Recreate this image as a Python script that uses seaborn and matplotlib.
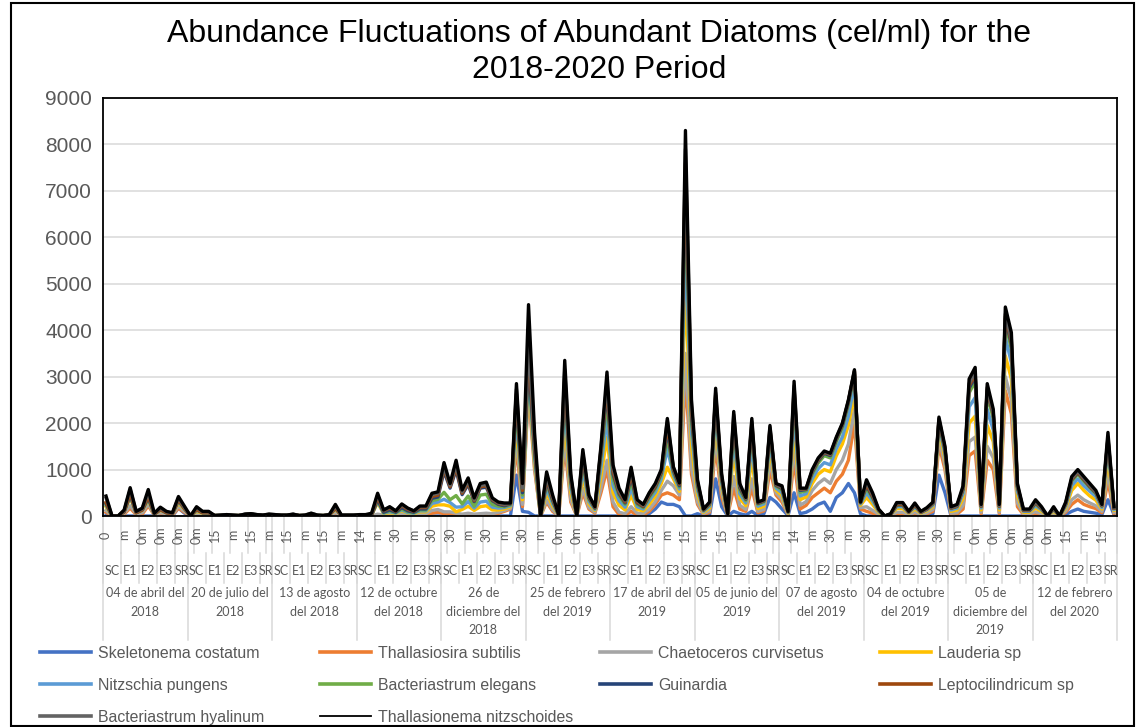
import numpy as np
import pandas as pd
import seaborn as sns
import matplotlib.pyplot as plt
from matplotlib.lines import Line2D
from matplotlib.patches import Rectangle

# ---- data: 12 sampling dates x 14 samples (SC 3, E1 3, E2 3, E3 3, SR 2) ----
dates = ["04 de abril del\n2018", "20 de julio del\n2018", "13 de agosto\ndel 2018",
         "12 de octubre\ndel 2018", "26 de\ndiciembre del\n2018", "25 de febrero\ndel 2019",
         "17 de abril del\n2019", "05 de junio del\n2019", "07 de agosto\ndel 2019",
         "04 de octubre\ndel 2019", "05 de\ndiciembre del\n2019", "12 de febrero\ndel 2020"]
stations = ["SC", "E1", "E2", "E3", "SR"]
station_size = [3, 3, 3, 3, 2]

# depth labels shown by the axis (every 3rd sample)
depth_labels = ["0", "m", "0m", "0m", "0m", "0m", "15", "m", "15", "m", "15", "m", "15", "m", "14",
                "m", "30", "m", "30", "30", "m", "30", "m", "30", "m", "0m", "0m", "0m", "0m", "0m",
                "15", "m", "15", "m", "15", "m", "15", "m", "14", "m", "30", "m", "30", "m", "30",
                "m", "30", "m", "0m", "0m", "0m", "0m", "0m", "15", "m", "15"]

species = ["Skeletonema costatum", "Thallasiosira subtilis", "Chaetoceros curvisetus", "Lauderia sp",
           "Nitzschia pungens", "Bacteriastrum elegans", "Guinardia", "Leptocilindricum sp",
           "Bacteriastrum hyalinum", "Thallasionema nitzschoides"]
colors = ["#4472C4", "#ED7D31", "#A5A5A5", "#FFC000", "#5B9BD5",
          "#70AD47", "#264478", "#9E480E", "#636363", "#000000"]

skeletonema = [
    20, 0, 0, 0, 0, 0, 0, 0, 0, 0, 20, 0, 170, 60,
    0, 0, 0, 0, 0, 0, 0, 0, 0, 0, 0, 0, 0, 0,
    0, 0, 0, 0, 0, 0, 0, 0, 0, 0, 60, 0, 0, 0,
    0, 0, 0, 0, 0, 0, 0, 0, 0, 0, 0, 0, 0, 0,
    0, 0, 0, 0, 0, 0, 0, 0, 0, 0, 0, 0, 880, 100,
    80, 0, 0, 0, 0, 0, 0, 0, 0, 0, 0, 0, 0, 0,
    0, 0, 0, 0, 0, 0, 50, 150, 300, 250, 250, 200, 0, 0,
    50, 0, 20, 800, 200, 0, 100, 50, 20, 100, 10, 50, 400, 300,
    150, 10, 500, 50, 80, 150, 250, 300, 100, 400, 500, 700, 500, 50,
    0, 0, 0, 0, 0, 0, 0, 0, 0, 0, 20, 50, 880, 500,
    0, 0, 0, 0, 0, 0, 0, 0, 0, 0, 0, 0, 0, 0,
    0, 0, 0, 0, 0, 30, 100, 150, 100, 80, 60, 30, 350, 30]
thallasiosira = [
    60, 0, 0, 40, 170, 30, 40, 220, 20, 40, 20, 20, 0, 20,
    0, 30, 20, 10, 0, 0, 0, 0, 0, 10, 10, 0, 0, 10,
    0, 0, 0, 0, 0, 0, 10, 0, 0, 0, 0, 0, 0, 0,
    0, 0, 0, 20, 10, 20, 20, 30, 20, 20, 30, 30, 60, 80,
    50, 60, 30, 20, 30, 20, 20, 30, 30, 60, 100, 150, 600, 100,
    2620, 1000, 0, 300, 100, 0, 1500, 300, 0, 500, 150, 60, 500, 1000,
    200, 30, 20, 100, 20, 20, 50, 100, 150, 250, 200, 150, 3000, 900,
    200, 30, 60, 700, 200, 20, 500, 100, 80, 500, 60, 60, 600, 150,
    150, 20, 700, 100, 150, 250, 250, 300, 400, 350, 400, 500, 1500, 100,
    100, 60, 20, 0, 0, 40, 40, 10, 40, 10, 30, 50, 650, 500,
    30, 40, 150, 1300, 1400, 50, 1200, 1000, 50, 2700, 2200, 200, 30, 30,
    50, 30, 0, 30, 0, 50, 150, 200, 150, 120, 100, 40, 400, 30]
chaetoceros = [
    40, 0, 0, 20, 50, 20, 30, 40, 10, 30, 10, 10, 40, 20,
    0, 20, 10, 10, 0, 0, 10, 0, 0, 0, 10, 10, 0, 0,
    0, 0, 0, 0, 0, 0, 0, 0, 0, 0, 20, 0, 0, 0,
    0, 0, 0, 20, 10, 10, 10, 20, 10, 10, 20, 20, 60, 60,
    40, 30, 30, 20, 30, 20, 30, 30, 20, 20, 20, 20, 200, 50,
    100, 60, 0, 50, 30, 0, 200, 60, 0, 100, 30, 20, 100, 200,
    100, 50, 30, 100, 40, 30, 50, 60, 100, 250, 200, 100, 500, 150,
    50, 20, 30, 250, 100, 0, 250, 80, 40, 200, 30, 30, 200, 50,
    60, 10, 300, 80, 80, 150, 200, 200, 200, 250, 300, 350, 300, 30,
    100, 60, 20, 0, 10, 40, 40, 20, 40, 20, 20, 40, 150, 100,
    30, 30, 80, 300, 300, 30, 300, 250, 30, 300, 300, 80, 20, 20,
    40, 20, 0, 20, 0, 30, 100, 100, 100, 80, 60, 30, 200, 20]
lauderia = [
    80, 0, 0, 30, 170, 20, 50, 80, 10, 50, 20, 20, 70, 40,
    0, 50, 30, 30, 10, 10, 10, 10, 10, 20, 20, 10, 10, 20,
    20, 10, 10, 30, 10, 10, 30, 10, 10, 20, 60, 10, 10, 10,
    10, 10, 20, 250, 30, 40, 20, 60, 30, 20, 40, 40, 90, 100,
    150, 120, 30, 100, 150, 80, 150, 160, 80, 50, 30, 30, 300, 100,
    150, 100, 0, 150, 80, 20, 400, 150, 0, 250, 80, 40, 250, 500,
    200, 150, 80, 250, 80, 60, 100, 120, 150, 300, 150, 80, 1500, 450,
    150, 30, 60, 300, 120, 20, 500, 150, 80, 450, 60, 70, 250, 60,
    80, 20, 400, 120, 100, 150, 200, 200, 250, 300, 350, 400, 350, 50,
    200, 130, 40, 0, 20, 80, 80, 30, 70, 30, 40, 60, 150, 150,
    40, 60, 150, 400, 450, 50, 450, 350, 50, 450, 450, 150, 30, 30,
    80, 50, 0, 50, 0, 60, 200, 250, 200, 150, 120, 50, 300, 40]
nitzschia = [
    30, 0, 0, 0, 30, 0, 10, 20, 0, 10, 0, 0, 30, 10,
    0, 20, 10, 10, 0, 0, 0, 0, 0, 0, 0, 0, 0, 0,
    0, 0, 0, 0, 0, 0, 0, 0, 0, 0, 20, 0, 0, 0,
    0, 0, 0, 30, 10, 20, 10, 20, 10, 10, 20, 20, 60, 60,
    120, 80, 100, 60, 100, 50, 100, 100, 60, 40, 30, 20, 200, 50,
    150, 100, 0, 100, 50, 0, 300, 100, 0, 150, 50, 20, 200, 400,
    150, 100, 60, 150, 60, 40, 80, 80, 100, 400, 80, 50, 1000, 300,
    100, 20, 40, 200, 80, 0, 300, 100, 60, 300, 50, 50, 150, 40,
    60, 10, 300, 80, 70, 100, 120, 150, 150, 150, 150, 200, 200, 30,
    100, 70, 20, 0, 0, 40, 40, 10, 40, 10, 20, 30, 100, 80,
    30, 40, 100, 350, 400, 40, 350, 250, 40, 400, 350, 100, 20, 20,
    50, 30, 0, 30, 0, 40, 100, 100, 100, 100, 80, 30, 200, 20]
b_elegans = [
    20, 0, 0, 0, 20, 0, 0, 20, 0, 10, 0, 0, 20, 10,
    0, 10, 0, 10, 0, 0, 0, 0, 0, 0, 0, 0, 0, 0,
    0, 0, 0, 0, 0, 0, 0, 0, 0, 0, 10, 0, 0, 0,
    0, 0, 0, 20, 10, 20, 10, 20, 20, 10, 20, 20, 60, 60,
    150, 60, 250, 60, 120, 40, 150, 150, 60, 40, 20, 20, 200, 50,
    150, 100, 0, 100, 50, 0, 300, 100, 0, 150, 50, 20, 200, 400,
    150, 100, 60, 150, 50, 30, 60, 70, 80, 250, 60, 40, 900, 250,
    80, 20, 30, 200, 70, 0, 250, 80, 50, 250, 40, 40, 150, 40,
    60, 10, 300, 80, 60, 100, 120, 150, 150, 150, 200, 250, 200, 20,
    100, 60, 20, 0, 0, 30, 30, 10, 30, 10, 20, 30, 80, 60,
    30, 30, 80, 300, 350, 30, 300, 250, 30, 300, 300, 80, 20, 20,
    40, 20, 0, 20, 0, 40, 100, 100, 100, 80, 60, 30, 150, 20]
guinardia = [
    20, 0, 0, 0, 20, 0, 0, 20, 0, 0, 0, 0, 20, 0,
    0, 10, 0, 0, 0, 0, 0, 0, 0, 0, 0, 0, 0, 0,
    0, 0, 0, 0, 0, 0, 0, 0, 0, 0, 0, 0, 0, 0,
    0, 0, 0, 20, 10, 20, 10, 30, 20, 10, 20, 20, 50, 50,
    450, 250, 550, 200, 250, 100, 150, 150, 80, 40, 20, 20, 150, 50,
    100, 60, 0, 50, 30, 0, 150, 50, 0, 80, 30, 10, 100, 200,
    100, 50, 30, 100, 30, 20, 40, 40, 50, 150, 40, 30, 400, 120,
    50, 10, 20, 100, 40, 0, 120, 50, 30, 120, 20, 20, 80, 20,
    30, 10, 150, 40, 30, 40, 50, 50, 50, 50, 50, 50, 50, 10,
    50, 30, 10, 0, 0, 10, 10, 0, 10, 0, 0, 10, 40, 30,
    10, 10, 20, 100, 100, 10, 100, 80, 10, 100, 100, 20, 0, 0,
    20, 10, 0, 10, 0, 10, 30, 30, 30, 20, 20, 10, 50, 10]
leptocilindricum = [
    20, 0, 0, 0, 20, 0, 0, 20, 0, 0, 0, 0, 0, 0,
    0, 0, 0, 0, 0, 0, 0, 0, 0, 0, 0, 0, 0, 0,
    0, 0, 0, 0, 0, 0, 0, 0, 0, 0, 0, 0, 0, 0,
    0, 0, 0, 40, 30, 40, 20, 40, 30, 20, 30, 30, 40, 40,
    50, 30, 50, 30, 40, 20, 30, 30, 20, 20, 20, 10, 100, 50,
    250, 100, 0, 50, 30, 0, 150, 40, 0, 60, 20, 10, 50, 100,
    50, 30, 20, 60, 20, 10, 20, 20, 20, 100, 30, 30, 300, 100,
    30, 0, 10, 50, 20, 0, 80, 30, 10, 60, 10, 10, 40, 10,
    20, 0, 80, 20, 10, 20, 20, 20, 20, 20, 20, 20, 20, 0,
    30, 20, 0, 0, 0, 10, 10, 0, 10, 0, 0, 0, 20, 20,
    0, 0, 10, 50, 50, 0, 30, 20, 0, 50, 50, 10, 0, 0,
    10, 0, 0, 0, 0, 0, 10, 10, 10, 10, 10, 0, 20, 0]
b_hyalinum = [
    100, 0, 0, 20, 90, 20, 20, 80, 10, 30, 20, 10, 40, 20,
    0, 40, 20, 20, 0, 10, 10, 10, 0, 10, 10, 10, 10, 10,
    10, 10, 10, 10, 0, 10, 20, 10, 0, 10, 40, 10, 10, 10,
    10, 10, 20, 50, 10, 20, 10, 20, 20, 10, 20, 20, 40, 40,
    40, 30, 60, 30, 40, 20, 30, 30, 20, 10, 10, 0, 100, 50,
    150, 80, 0, 50, 30, 0, 150, 50, 0, 60, 20, 10, 50, 100,
    80, 40, 30, 80, 30, 20, 30, 30, 30, 100, 30, 20, 300, 100,
    30, 10, 10, 50, 20, 0, 80, 20, 10, 60, 10, 10, 40, 10,
    10, 0, 70, 10, 10, 20, 20, 10, 10, 10, 10, 10, 10, 0,
    50, 30, 10, 0, 10, 20, 20, 10, 20, 10, 10, 10, 20, 20,
    10, 10, 20, 50, 50, 10, 40, 30, 10, 50, 50, 20, 10, 10,
    20, 10, 0, 10, 0, 10, 20, 20, 20, 20, 10, 10, 30, 10]
thallasionema = [
    40, 0, 0, 20, 40, 10, 20, 70, 10, 20, 10, 10, 30, 30,
    0, 20, 10, 10, 0, 0, 0, 0, 0, 0, 0, 0, 0, 0,
    0, 0, 0, 0, 0, 0, 0, 0, 0, 0, 40, 0, 0, 0,
    10, 10, 20, 40, 10, 10, 0, 20, 10, 0, 15, 15, 30, 30,
    100, 40, 100, 40, 60, 40, 40, 50, 20, 20, 30, 10, 120, 100,
    800, 200, 0, 100, 50, 0, 200, 50, 0, 80, 20, 10, 50, 200,
    70, 50, 20, 60, 20, 20, 20, 30, 20, 50, 20, 10, 400, 130,
    40, 10, 20, 100, 50, 10, 70, 40, 20, 60, 10, 10, 40, 20,
    30, 10, 100, 20, 10, 20, 20, 20, 20, 20, 20, 20, 20, 10,
    50, 40, 10, 0, 10, 20, 20, 10, 20, 10, 20, 20, 40, 40,
    20, 30, 40, 100, 100, 30, 80, 70, 30, 150, 150, 40, 20, 20,
    40, 30, 0, 30, 0, 30, 40, 40, 40, 40, 30, 20, 100, 20]

series = [skeletonema, thallasiosira, chaetoceros, lauderia, nitzschia,
          b_elegans, guinardia, leptocilindricum, b_hyalinum, thallasionema]

# ---- stacked line table ----
n = len(skeletonema)
pos = np.arange(n) + 0.5
stacked = np.cumsum(np.array(series), axis=0)
frames = []
for name, vals in zip(species, stacked):
    frames.append(pd.DataFrame({"pos": pos, "value": vals, "species": name}))
df = pd.concat(frames, ignore_index=True)

W, H = 1137, 727
AX_TOP, AX_BOT, AX_L, AX_R = 98, 516, 103, 1117
fig = plt.figure(figsize=(W / 100, H / 100), dpi=100)
ax = fig.add_axes([AX_L / W, 1 - AX_BOT / H, (AX_R - AX_L) / W, (AX_BOT - AX_TOP) / H])

def ay(ypx):
    # pixel row -> axes fraction
    return (AX_BOT - ypx) / (AX_BOT - AX_TOP)

sns.lineplot(data=df, x="pos", y="value", hue="species", hue_order=species,
             palette=colors, linewidth=2.4, legend=False, errorbar=None, ax=ax)

ax.set_xlim(0, n)
ax.set_ylim(0, 9000)
ax.set_xticks([])
ax.set_yticks(range(0, 9001, 1000))
ax.set_xlabel("")
ax.set_ylabel("")
ax.yaxis.grid(True, color="#D9D9D9", lw=1.1)
ax.set_axisbelow(True)
ax.tick_params(axis="y", length=0, pad=8, labelsize=15, labelcolor="#595959")
for lab in ax.get_yticklabels():
    lab.set_family("Liberation Sans")
for sp in ax.spines.values():
    sp.set_color("black")
    sp.set_linewidth(1.3)

# ---- multi-level category axis ----
tr = ax.get_xaxis_transform()
grey = "#D9D9D9"
lab_kw = dict(transform=tr, ha="center", color="#595959", family="Lato", clip_on=False)
for k, lab in enumerate(depth_labels):
    ax.text(3 * k + 0.5, ay(535), lab, rotation=90, va="center", fontsize=9, **lab_kw)
for t in range(0, n + 1, 3):
    ax.plot([t, t], [0, ay(553)], transform=tr, clip_on=False, color=grey, lw=1.1)

per_date = sum(station_size)
for d, date in enumerate(dates):
    start = d * per_date
    x0 = start
    for st, size in zip(stations, station_size):
        ax.text(x0 + size / 2, ay(571), st, va="center", fontsize=9, **lab_kw)
        ax.plot([x0, x0], [ay(553), ay(583)], transform=tr, clip_on=False, color=grey, lw=1.1)
        x0 += size
    ax.text(start + per_date / 2, ay(587), date, va="top", fontsize=9, linespacing=1.65, **lab_kw)
for d in range(len(dates) + 1):
    ax.plot([d * per_date] * 2, [0, ay(640)], transform=tr, clip_on=False, color=grey, lw=1.1)

# ---- title ----
fig.text(599 / W, 1 - 52 / H, "Abundance Fluctuations of Abundant Diatoms (cel/ml) for the\n2018-2020 Period",
         ha="center", va="center", fontsize=23, family="Liberation Sans", linespacing=1.22)

# ---- legend: 4 columns laid out like Excel ----
handles = [Line2D([], [], color=c, lw=(1.3 if c == "#000000" else 2.6)) for c in colors]
order = [[0, 4, 8], [1, 5, 9], [2, 6], [3, 7]]
for c, idx in enumerate(order):
    leg = fig.legend([handles[i] for i in idx], [species[i] for i in idx],
                     loc="upper left", bbox_to_anchor=((40 + 280 * c) / W, 1 - 646 / H),
                     frameon=False, borderpad=0, borderaxespad=0, handlelength=3.2,
                     handletextpad=0.45, labelspacing=1.07,
                     prop={"family": "Liberation Sans", "size": 11.4})
    for txt in leg.get_texts():
        txt.set_color("#595959")

fig.add_artist(Rectangle((11 / W, 1 - 726 / H), 1123 / W, 723 / H, transform=fig.transFigure,
                         fill=False, ec="black", lw=1.5))

fig.savefig("out.png", dpi=100)
